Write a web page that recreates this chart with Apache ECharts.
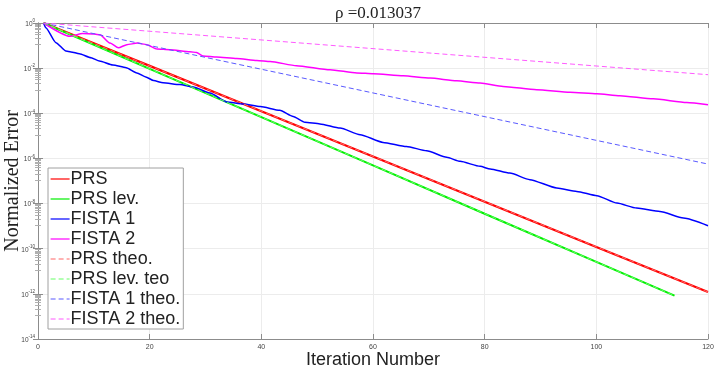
<!DOCTYPE html>
<html>
<head>
<meta charset="UTF-8">
<title>Normalized Error</title>
<script src="https://cdn.jsdelivr.net/npm/echarts@6/dist/echarts.min.js"></script>
<style>
  body { margin: 0; background: #fff; }
  #chart { width: 714px; height: 367px; }
</style>
</head>
<body>
<div id="chart"></div>
<script>
// values are log10(normalized error)
var prsX = [1, 20, 40, 60, 80, 100, 120];
var prsLog = [0, -1.90, -3.91, -5.91, -7.92, -9.92, -11.92];
var prsLevX = [1, 20, 40, 60, 80, 100, 114];
var prsLevLog = [0, -2.03, -4.17, -6.31, -8.45, -10.58, -12.08];

var fista1X = [1, 1.4, 3.2, 5, 5.9, 7.4, 9.5, 11, 13.4, 15.8, 17.7, 19.3, 20.7, 22.4, 25.4, 27.8, 30.8, 33.8, 36.8, 39.8, 43.3, 45.7, 47.8, 50.5, 54.1, 57.7, 61.8, 66, 69.6, 73.2, 75.6, 79.2, 81, 84.5, 88.1, 92.9, 96.5, 100.1, 103.7, 107.2, 111.4, 115.6, 120];
var fista1Log = [0, -0.21, -0.87, -1.24, -1.28, -1.36, -1.54, -1.68, -1.86, -1.98, -2.21, -2.39, -2.55, -2.65, -2.73, -2.84, -3.10, -3.50, -3.59, -3.70, -3.87, -4.14, -4.40, -4.47, -4.65, -4.95, -5.29, -5.47, -5.66, -5.95, -6.13, -6.35, -6.47, -6.65, -6.94, -7.31, -7.46, -7.65, -7.98, -8.20, -8.35, -8.64, -8.98];

var fista2X = [1, 5.7, 8, 10.1, 11.1, 12.9, 14.4, 15.9, 17.8, 19.5, 21.3, 23.6, 27.2, 28.4, 29.6, 32, 35.6, 39.2, 41.6, 46.3, 52.3, 57.1, 60.1, 65.4, 70.2, 75, 79.2, 83.3, 89.3, 95.3, 100.1, 104.2, 110.2, 116.2, 120];
var fista2Log = [0, -0.59, -0.47, -0.49, -0.52, -0.89, -1.10, -0.96, -0.89, -0.96, -1.15, -1.18, -1.27, -1.31, -1.46, -1.51, -1.57, -1.66, -1.71, -1.89, -2.07, -2.21, -2.25, -2.34, -2.44, -2.56, -2.66, -2.81, -2.96, -3.07, -3.13, -3.22, -3.36, -3.52, -3.62];

var theoX = [1, 120];
var prsTheoLog = [0, -11.92];
var prsLevTheoX = [1, 114];
var prsLevTheoLog = [0, -12.08];
var fista1TheoLog = [0, -6.25];
var fista2TheoLog = [0, -2.29];

var xTicks = [0, 20, 40, 60, 80, 100, 120];

function pts(xs, logs) {
  return xs.map(function (x, i) { return [x, Math.pow(10, logs[i])]; });
}

var chart = echarts.init(document.getElementById('chart'));

var axisGray = '#8c8c8c';
var gridGray = '#ececec';

function solid(name, xs, logs, color, width, smooth) {
  return {
    name: name, type: 'line', data: pts(xs, logs), xAxisIndex: 0, yAxisIndex: 0,
    symbol: 'none', smooth: smooth, smoothMonotone: 'x',
    lineStyle: { color: color, width: width }, itemStyle: { color: color },
    z: 3
  };
}
function dashed(name, xs, logs, color) {
  return {
    name: name, type: 'line', data: pts(xs, logs), xAxisIndex: 0, yAxisIndex: 0,
    symbol: 'none',
    lineStyle: { color: color, width: 1, type: [5, 3] }, itemStyle: { color: color },
    z: 4
  };
}

var option = {
  animation: false,
  title: {
    text: 'ρ =0.013037',
    left: 373, top: 0, textAlign: 'center',
    textStyle: { fontFamily: 'Liberation Serif', fontSize: 17, fontWeight: 'normal', color: '#222' }
  },
  grid: { left: 38, right: 6, top: 23, bottom: 28, outerBoundsMode: 'none', containLabel: false },
  legend: {
    orient: 'vertical', left: 48, top: 168,
    padding: [1, 3, 0, 2], itemGap: 0, itemWidth: 19, itemHeight: 10,
    backgroundColor: '#fff', borderColor: '#a0a0a0', borderWidth: 1, borderRadius: 0,
    itemStyle: { color: 'rgba(0,0,0,0)', borderColor: 'rgba(0,0,0,0)', borderWidth: 0, opacity: 0 },
    lineStyle: { width: 1.2 },
    textStyle: { fontFamily: 'Liberation Sans', fontSize: 18, color: '#222', lineHeight: 20, padding: [0, 0, 0, -4] },
    data: ['PRS', 'PRS lev.', 'FISTA 1', 'FISTA 2', 'PRS theo.', 'PRS lev. teo', 'FISTA 1 theo.', 'FISTA 2 theo.']
  },
  xAxis: [{
    type: 'value', min: 0, max: 120, interval: 20,
    name: 'Iteration Number', nameLocation: 'middle', nameGap: 12, nameMoveOverlap: false,
    nameTextStyle: { fontFamily: 'Liberation Sans', fontSize: 18, color: '#222' },
    axisLine: { lineStyle: { color: axisGray } },
    axisTick: { inside: true, length: 5, lineStyle: { color: axisGray } },
    axisLabel: { fontSize: 7, color: '#444', margin: 5,
      formatter: function (v) { return xTicks.indexOf(v) >= 0 ? String(v) : ''; } },
    splitLine: { show: true, lineStyle: { color: gridGray } }
  }, {
    type: 'value', min: 0, max: 120, interval: 20, position: 'top',
    axisLine: { lineStyle: { color: axisGray } },
    axisTick: { inside: true, length: 5, lineStyle: { color: axisGray } },
    axisLabel: { show: false }, splitLine: { show: false }
  }],
  yAxis: [{
    type: 'log', logBase: 10, min: 1e-14, max: 1, interval: 2,
    name: 'Normalized Error', nameLocation: 'middle', nameGap: 15, nameRotate: 90, nameMoveOverlap: false,
    nameTextStyle: { fontFamily: 'Liberation Serif', fontSize: 20, color: '#222' },
    axisLine: { show: true, lineStyle: { color: axisGray } },
    axisTick: { inside: true, length: 5, lineStyle: { color: axisGray } },
    minorTick: { show: true, splitNumber: 10, length: 3, lineStyle: { color: '#b0b0b0' } },
    axisLabel: {
      margin: 3,
      formatter: function (v) {
        var e = Math.round(Math.log10(v));
        return '{b|10}{s|' + e + '}';
      },
      rich: {
        b: { fontSize: 6.5, color: '#444', verticalAlign: 'bottom', lineHeight: 9 },
        s: { fontSize: 4.5, color: '#444', verticalAlign: 'top', lineHeight: 9 }
      }
    },
    splitLine: { show: true, lineStyle: { color: gridGray } }
  }, {
    type: 'log', logBase: 10, min: 1e-14, max: 1, interval: 2, position: 'right',
    axisLine: { show: true, lineStyle: { color: axisGray } },
    axisTick: { inside: true, length: 5, lineStyle: { color: axisGray } },
    minorTick: { show: true, splitNumber: 10, length: 3, lineStyle: { color: '#b0b0b0' } },
    axisLabel: { show: false }, splitLine: { show: false }
  }],
  series: [
    solid('PRS', prsX, prsLog, '#ff0000', 2.2, false),
    solid('PRS lev.', prsLevX, prsLevLog, '#00ee00', 2, false),
    solid('FISTA 1', fista1X, fista1Log, '#0000ff', 1.5, 0.2),
    solid('FISTA 2', fista2X, fista2Log, '#ff00ff', 1.5, 0.2),
    dashed('PRS theo.', theoX, prsTheoLog, '#ff6666'),
    dashed('PRS lev. teo', prsLevTheoX, prsLevTheoLog, '#66ff66'),
    dashed('FISTA 1 theo.', theoX, fista1TheoLog, '#5a5aff'),
    dashed('FISTA 2 theo.', theoX, fista2TheoLog, '#ff5aff')
  ]
};

chart.setOption(option);
</script>
</body>
</html>
